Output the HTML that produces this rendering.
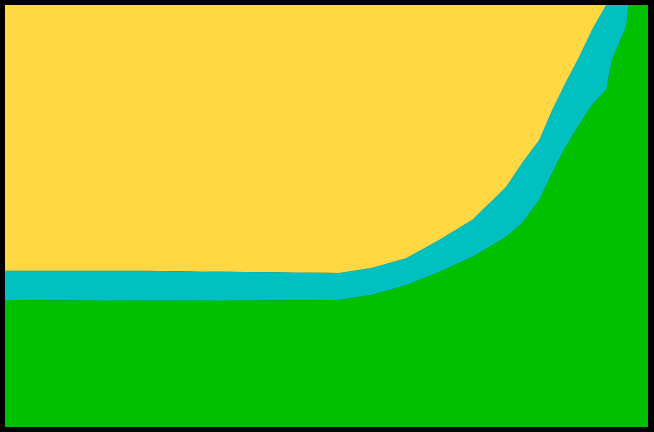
<!DOCTYPE html>
<html><head><meta charset="utf-8"><style>
html,body{margin:0;padding:0;background:#000;}
svg{display:block;}
</style></head><body>
<svg id="chart" width="654" height="432" viewBox="0 0 654 432" xmlns="http://www.w3.org/2000/svg">
<rect x="0" y="0" width="654" height="432" fill="#000"/>
<g id="plot"></g>
</svg>
<script>
const xValues = [0, 22.5, 52.0, 57.1, 62.4, 67.5, 72.7, 77.9, 80.4, 83.1, 85.1, 87.2, 89.3, 91.3, 93.5, 94.4, 96.6, 97.0, 100];
const greenValues = [30.1, 29.9, 30.1, 31.3, 33.6, 36.7, 40.3, 45.0, 48.3, 53.8, 60.2, 66.4, 71.6, 76.3, 79.9, 87.0, 94.8, 100, 100];
const cyanValues = [6.9, 7.1, 6.4, 6.4, 6.4, 7.6, 8.8, 11.8, 14.2, 14.2, 14.9, 15.2, 16.1, 17.8, 20.1, 13.0, 5.2, 0, 0];
const L = 5, R = 648, T = 5, B = 427;
function xs(v){ return L + v / 100 * (R - L); }
function ys(v){ return B - v / 100 * (B - T); }
const ns = 'http://www.w3.org/2000/svg';
const plot = document.getElementById('plot');
function area(lower, upper, color, name){
  let d = '';
  for (let i = 0; i < xValues.length; i++) d += (i ? 'L' : 'M') + xs(xValues[i]).toFixed(1) + ',' + ys(Math.min(100, upper[i])).toFixed(1);
  for (let i = xValues.length - 1; i >= 0; i--) d += 'L' + xs(xValues[i]).toFixed(1) + ',' + ys(lower[i]).toFixed(1);
  d += 'Z';
  const p = document.createElementNS(ns, 'path');
  p.setAttribute('d', d);
  p.setAttribute('fill', color);
  
  
  plot.appendChild(p);
}
const zeros = xValues.map(() => 0);
const hundreds = xValues.map(() => 100);
const greenTop = greenValues.slice();
const cyanTop = greenValues.map((g, i) => Math.min(100, g + cyanValues[i]));
area(cyanTop, hundreds, '#ffd843', 'yellow-area');
area(greenTop, cyanTop, '#00c0c0', 'cyan-area');
area(zeros, greenTop, '#00c000', 'green-area');
</script>
</body></html>
